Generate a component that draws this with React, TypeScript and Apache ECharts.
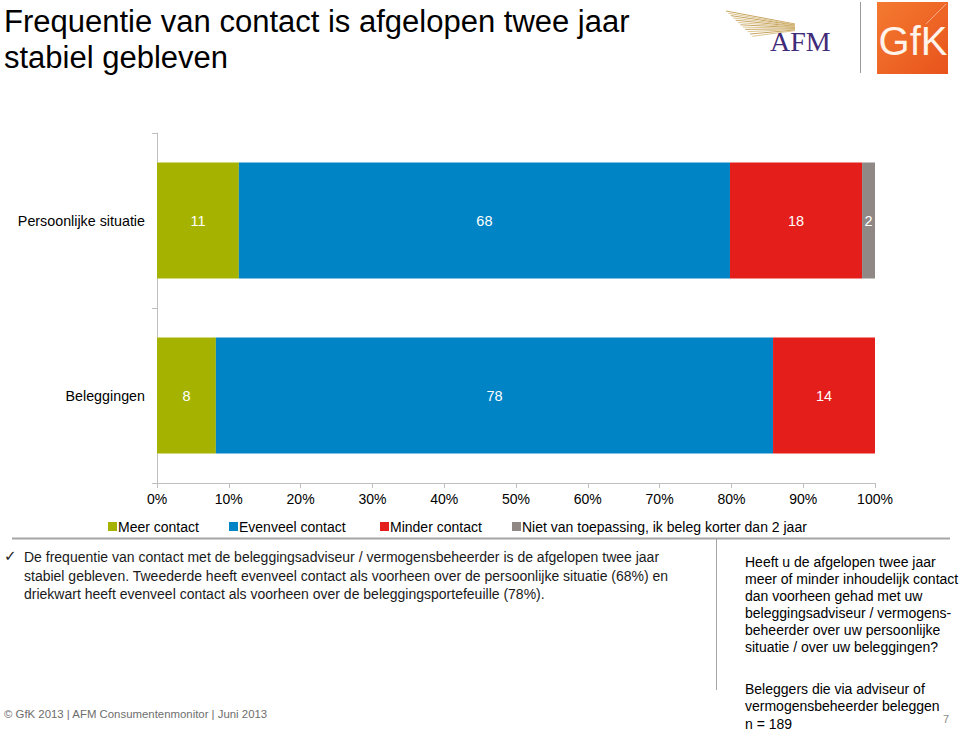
import React, { useEffect, useRef } from "react";
import * as echarts from "echarts";

const categories = ["Persoonlijke situatie", "Beleggingen"];
const seriesNames = [
  "Meer contact",
  "Evenveel contact",
  "Minder contact",
  "Niet van toepassing, ik beleg korter dan 2 jaar",
];
const meerContact = [11.4, 8.2];
const evenveelContact = [68.4, 77.6];
const minderContact = [18.4, 14.2];
const nietVanToepassing = [1.8, 0];
const shownLabels = [
  [11, 8],
  [68, 78],
  [18, 14],
  [2, null],
];
const colors = ["#A5B300", "#0084C6", "#E31E1B", "#8F8884"];

const FONT = "'Liberation Sans', Arial, sans-serif";

export default function App() {
  const ref = useRef<HTMLDivElement>(null);
  useEffect(() => {
    if (!ref.current) return;
    const chart = echarts.init(ref.current, null, { renderer: "svg" });
    const values = [meerContact, evenveelContact, minderContact, nietVanToepassing];
    const featherLines: any[] = [];
    for (let i = 0; i < 12; i++) {
      featherLines.push({
        type: "line",
        shape: { x1: 726 + i * 2.4, y1: 11 + i * 2.3, x2: 795, y2: 24 + i * 0.6 },
        style: { stroke: i % 2 ? "#DCC693" : "#C8A560", lineWidth: 1 },
        silent: true,
      });
    }
    const legendIconX = [108, 229, 380, 512];
    const legendItems: any[] = [];
    seriesNames.forEach((name, i) => {
      legendItems.push({
        type: "rect",
        shape: { x: legendIconX[i], y: 522, width: 9, height: 9 },
        style: { fill: colors[i] },
      });
      legendItems.push({
        type: "text",
        x: legendIconX[i] + 10,
        y: 527,
        style: { text: name, font: `14px ${FONT}`, fill: "#000", verticalAlign: "middle" },
      });
    });
    chart.setOption({
      animation: false,
      textStyle: { fontFamily: FONT },
      grid: { left: 157, right: 85, top: 133, bottom: 249 },
      xAxis: {
        type: "value",
        min: 0,
        max: 100,
        interval: 10,
        axisLine: { show: true, lineStyle: { color: "#BFBFBF" } },
        axisTick: { show: true, length: 5, lineStyle: { color: "#BFBFBF" } },
        splitLine: { show: false },
        axisLabel: { formatter: "{value}%", fontSize: 14, color: "#000", margin: 9, fontFamily: FONT },
      },
      yAxis: {
        type: "category",
        inverse: true,
        data: categories,
        axisLine: { show: true, lineStyle: { color: "#BFBFBF" } },
        axisTick: { show: true, length: 5, lineStyle: { color: "#BFBFBF" } },
        axisLabel: { fontSize: 14.3, color: "#000", margin: 12, fontFamily: FONT },
      },
      series: seriesNames.map((name, si) => ({
        name,
        type: "bar",
        stack: "total",
        barWidth: 116,
        itemStyle: { color: colors[si] },
        data: values[si],
        label: {
          show: true,
          position: "inside",
          color: "#fff",
          fontSize: 14.5,
          fontFamily: FONT,
          formatter: (p: any) => {
            const v = shownLabels[si][p.dataIndex];
            return v === null ? "" : String(v);
          },
        },
      })),
      graphic: [
        {
          type: "text",
          left: 4,
          top: 3,
          style: {
            text: "Frequentie van contact is afgelopen twee jaar\nstabiel gebleven",
            font: `31px ${FONT}`,
            fill: "#000",
            lineHeight: 36,
          },
        },
        ...legendItems,
        ...featherLines,
        {
          type: "text",
          x: 770,
          y: 27,
          style: {
            text: "AFM",
            font: `28px 'Liberation Serif', 'DejaVu Serif', serif`,
            fill: "#3F2B78",
          },
        },
        {
          type: "line",
          shape: { x1: 860.5, y1: 2, x2: 860.5, y2: 73 },
          style: { stroke: "#9A9A9A", lineWidth: 1 },
        },
        {
          type: "rect",
          shape: { x: 877, y: 2, width: 71, height: 72 },
          style: {
            fill: new echarts.graphic.LinearGradient(0, 0, 1, 1, [
              { offset: 0, color: "#F47A30" },
              { offset: 1, color: "#E8531C" },
            ]),
          },
        },
        {
          type: "line",
          shape: { x1: 926, y1: 24, x2: 946, y2: 4 },
          style: { stroke: "rgba(255,255,255,0.45)", lineWidth: 1 },
        },
        {
          type: "text",
          x: 913,
          y: 41,
          style: {
            text: "GfK",
            font: `40px ${FONT}`,
            fill: "#FFF3EA",
            align: "center",
            verticalAlign: "middle",
          },
        },
        {
          type: "line",
          shape: { x1: 12, y1: 538.5, x2: 950, y2: 538.5 },
          style: { stroke: "#A6A6A6", lineWidth: 2 },
        },
        {
          type: "line",
          shape: { x1: 716.5, y1: 539, x2: 716.5, y2: 690 },
          style: { stroke: "#A6A6A6", lineWidth: 1 },
        },
        {
          type: "text",
          x: 4,
          y: 548,
          style: { text: "✓", font: `15px 'DejaVu Sans', sans-serif`, fill: "#222" },
        },
        {
          type: "text",
          x: 24,
          y: 548,
          style: {
            text:
              "De frequentie van contact met de beleggingsadviseur / vermogensbeheerder is de afgelopen twee jaar\nstabiel gebleven. Tweederde heeft evenveel contact als voorheen over de persoonlijke situatie (68%) en\ndriekwart heeft evenveel contact als voorheen over de beleggingsportefeuille (78%).",
            font: `14px ${FONT}`,
            fill: "#1A1A1A",
            lineHeight: 18.5,
          },
        },
        {
          type: "text",
          x: 745,
          y: 553,
          style: {
            text:
              "Heeft u de afgelopen twee jaar\nmeer of minder inhoudelijk contact\ndan voorheen gehad met uw\nbeleggingsadviseur / vermogens-\nbeheerder over uw persoonlijke\nsituatie / over uw beleggingen?",
            font: `14px ${FONT}`,
            fill: "#000",
            lineHeight: 17,
          },
        },
        {
          type: "text",
          x: 745,
          y: 680,
          style: {
            text: "Beleggers die via adviseur of\nvermogensbeheerder beleggen",
            font: `14px ${FONT}`,
            fill: "#000",
            lineHeight: 17,
          },
        },
        {
          type: "text",
          x: 745,
          y: 717,
          style: { text: "n = 189", font: `14px ${FONT}`, fill: "#000" },
        },
        {
          type: "text",
          x: 4,
          y: 708,
          style: {
            text: "© GfK 2013 | AFM Consumentenmonitor | Juni 2013",
            font: `11.4px ${FONT}`,
            fill: "#6E6E6E",
          },
        },
        {
          type: "text",
          x: 943,
          y: 713,
          style: { text: "7", font: `11px ${FONT}`, fill: "#8A8A8A" },
        },
      ],
    });
    return () => chart.dispose();
  }, []);
  return <div ref={ref} style={{ width: 960, height: 732, position: "absolute", left: 0, top: 0 }} />;
}
